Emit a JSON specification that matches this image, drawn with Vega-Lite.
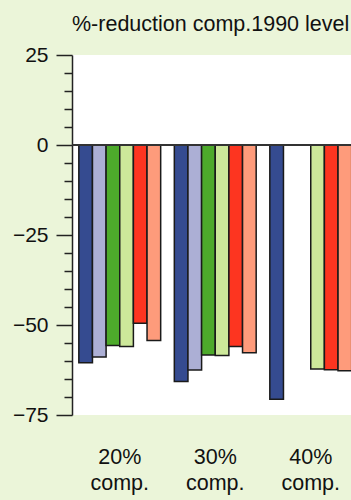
{
  "$schema": "https://vega.github.io/schema/vega-lite/v6.json",
  "autosize": {"type": "none"},
  "width": 279,
  "height": 360,
  "padding": {"left": 72, "top": 55, "right": 0, "bottom": 85},
  "background": "#ebf5d9",
  "view": {"fill": "white", "stroke": null},
  "title": {
    "text": "%-reduction comp.1990 level",
    "anchor": "start",
    "frame": "group",
    "font": "Liberation Sans",
    "fontSize": 21.5,
    "fontWeight": "normal",
    "color": "#111",
    "baseline": "alphabetic",
    "offset": -8
  },
  "config": {
    "font": "Liberation Sans"
  },
  "data": {
    "values": [
      {"group": "20% comp.", "series": "s1", "value": -60.5},
      {"group": "20% comp.", "series": "s2", "value": -58.9},
      {"group": "20% comp.", "series": "s3", "value": -55.7},
      {"group": "20% comp.", "series": "s4", "value": -56.0},
      {"group": "20% comp.", "series": "s5", "value": -49.5},
      {"group": "20% comp.", "series": "s6", "value": -54.3},
      {"group": "30% comp.", "series": "s1", "value": -65.7},
      {"group": "30% comp.", "series": "s2", "value": -62.5},
      {"group": "30% comp.", "series": "s3", "value": -58.3},
      {"group": "30% comp.", "series": "s4", "value": -58.5},
      {"group": "30% comp.", "series": "s5", "value": -56.0},
      {"group": "30% comp.", "series": "s6", "value": -57.7},
      {"group": "40% comp.", "series": "s1", "value": -70.6},
      {"group": "40% comp.", "series": "s4", "value": -62.2},
      {"group": "40% comp.", "series": "s5", "value": -62.4},
      {"group": "40% comp.", "series": "s6", "value": -62.7}
    ]
  },
  "layer": [
    {
      "mark": {"type": "bar", "clip": true, "stroke": "#1a1a1a", "strokeWidth": 1.5},
      "encoding": {
        "x": {
          "field": "group", "type": "nominal",
          "scale": {"domain": ["20% comp.", "30% comp.", "40% comp."], "range": [0, 286.5], "paddingInner": 0, "paddingOuter": 0},
          "axis": {
            "title": null, "domain": false, "ticks": false,
            "labelAngle": 0, "labelFontSize": 21.5, "labelColor": "#111",
            "labelExpr": "split(datum.label, ' ')",
            "labelLineHeight": 26, "labelPadding": 31, "labelBaseline": "top"
          }
        },
        "xOffset": {
          "field": "series", "type": "nominal",
          "scale": {"domain": ["s1", "s2", "s3", "s4", "s5", "s6"], "paddingInner": 0, "paddingOuter": 0.5}
        },
        "y": {
          "field": "value", "type": "quantitative",
          "scale": {"domain": [-75, 25], "nice": false, "zero": false},
          "axis": {
            "title": null, "grid": false,
            "values": [-75, -70, -65, -60, -55, -50, -45, -40, -35, -30, -25, -20, -15, -10, -5, 0, 5, 10, 15, 20, 25],
            "tickCount": 100,
            "labelExpr": "abs(datum.value) % 25 === 0 ? datum.label : ''",
            "labelOverlap": false,
            "labelFontSize": 21, "labelColor": "#111", "labelPadding": 8,
            "domainColor": "#222", "domainWidth": 1.5,
            "tickColor": "#222", "tickWidth": 1.5,
            "tickSize": {"condition": {"test": "abs(datum.value) % 25 === 0", "value": 16}, "value": 8}
          }
        },
        "color": {
          "field": "series", "type": "nominal",
          "scale": {"domain": ["s1", "s2", "s3", "s4", "s5", "s6"], "range": ["#354b90", "#acafd5", "#4daa2b", "#cde89a", "#fd3520", "#fe9b7b"]},
          "legend": null
        }
      }
    },
    {
      "data": {"values": [{"zero": 0}]},
      "mark": {"type": "rule", "color": "#333", "strokeWidth": 2},
      "encoding": {"y": {"field": "zero", "type": "quantitative"}}
    }
  ]
}
